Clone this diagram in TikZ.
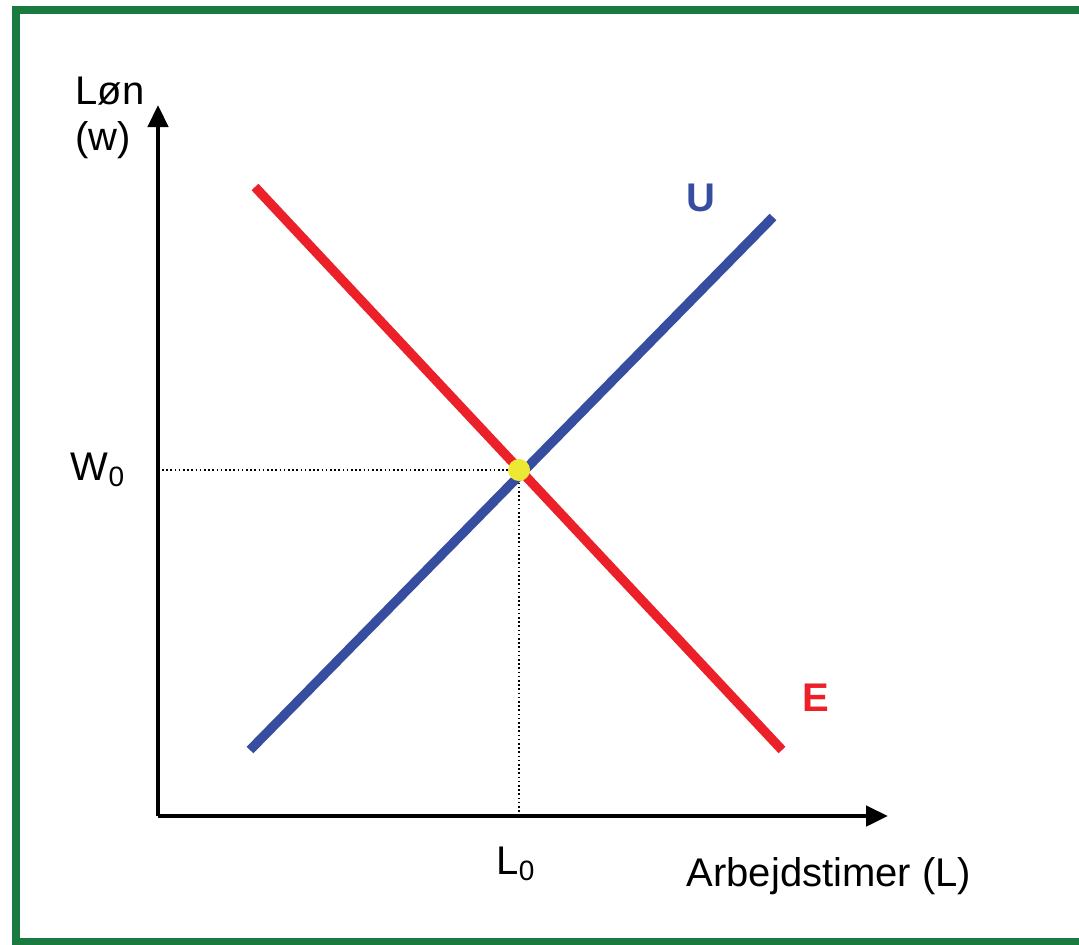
\documentclass[tikz,border=0pt]{standalone}
\usepackage{fontspec}
\setmainfont{Liberation Sans}
\usetikzlibrary{arrows.meta, positioning}
\definecolor{FrameGreen}{RGB}{27, 122, 64}
\definecolor{CurveRed}{RGB}{236, 32, 40}
\definecolor{CurveBlue}{RGB}{55, 78, 160}
\definecolor{DotYellow}{RGB}{236, 232, 52}

\begin{document}
\begin{tikzpicture}[
    x=0.5pt, y=-0.5pt,
    axis/.style={line width=2.3pt, -{Triangle[length=11pt, width=10pt]}},
    curve/.style={line width=4.7pt},
    guide/.style={line width=0.8pt, dash pattern=on 0.8pt off 1.3pt},
    lbl/.style={font=\fontsize{20}{24}\selectfont, inner sep=0pt},
    curvelbl/.style={font=\fontsize{20}{24}\selectfont\bfseries, inner sep=0pt}
]
\useasboundingbox (0,0) rectangle (1079,944);

% Frame
\draw[FrameGreen, line width=4pt] (16,10) rectangle (1100,942);

% Axes
\coordinate (origin) at (158,816);
\coordinate (ytip) at (158,105);
\coordinate (xtip) at (888,816);
\draw[axis] (origin) -- (ytip);
\draw[axis] (origin) -- (xtip);

% Curves
\coordinate (eq) at (519,470);
\coordinate (E1) at (255,187);
\coordinate (E2) at (782,750);
\coordinate (U1) at (250,750);
\coordinate (U2) at (773,217);
\coordinate (w0) at (162,470);
\coordinate (l0) at (519,813);

\draw[guide] (w0) -- (eq);
\draw[guide] (eq) -- (l0);
\draw[curve, CurveRed] (E1) -- (E2);
\draw[curve, CurveBlue] (U1) -- (U2);
\fill[DotYellow] (eq) circle (11);

% Labels
\node[lbl] (lon) at (110,91) {Løn};
\node[lbl] (w) at (103,140) {(w)};
\node[lbl] (W0) at (98,470) {W\textsubscript{0}};
\node[lbl] (L0) at (516,864) {L\textsubscript{0}};
\node[lbl] (xlabel) at (829,876) {Arbejdstimer (L)};
\node[curvelbl, CurveBlue] (U) at (701,198) {U};
\node[curvelbl, CurveRed] (E) at (816,698) {E};

\end{tikzpicture}
\end{document}
